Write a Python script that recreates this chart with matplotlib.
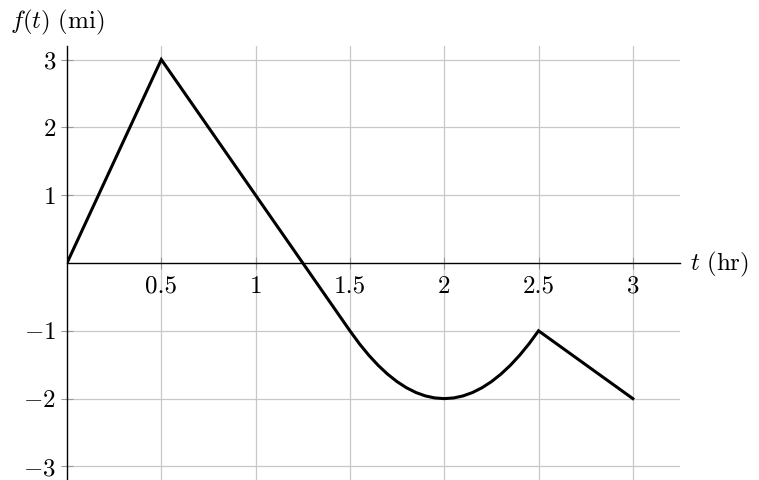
import matplotlib.pyplot as plt

plt.rcParams['mathtext.fontset'] = 'cm'
plt.rcParams['font.family'] = 'serif'
plt.rcParams['font.serif'] = ['cmr10', 'DejaVu Serif']
plt.rcParams['axes.formatter.use_mathtext'] = True

# === Piecewise curve ===
t_vals = [0.0, 0.5, 1.5, 1.55, 1.6, 1.65, 1.7, 1.75, 1.8, 1.85, 1.9, 1.95, 2.0,
          2.05, 2.1, 2.15, 2.2, 2.25, 2.3, 2.35, 2.4, 2.45, 2.5, 3.0]
f_vals = [0.0, 3.0, -1.0, -1.19, -1.36, -1.51, -1.64, -1.75, -1.84, -1.91, -1.96, -1.99, -2.0,
          -1.99, -1.96, -1.91, -1.84, -1.75, -1.64, -1.51, -1.36, -1.19, -1.0, -2.0]

x_ticks = [0.5, 1, 1.5, 2, 2.5, 3]
x_labels = ['0.5', '1', '1.5', '2', '2.5', '3']
y_ticks = [-3, -2, -1, 1, 2, 3]
y_labels = ['$-3$', '$-2$', '$-1$', '$1$', '$2$', '$3$']

fig = plt.figure(figsize=(7.59, 4.8), dpi=100)
ax = fig.add_axes([67 / 759, 0.0, (680 - 67) / 759, (480 - 46) / 480])

ax.plot(t_vals, f_vals, color='black', lw=2.2, solid_joinstyle='miter', zorder=3)

ax.set_xlim(0, 3.25)
ax.set_ylim(-3.2, 3.2)

# === Axes through the origin ===
ax.spines['left'].set_position(('data', 0))
ax.spines['bottom'].set_position(('data', 0))
ax.spines['right'].set_visible(False)
ax.spines['top'].set_visible(False)
for s in ['left', 'bottom']:
    ax.spines[s].set_linewidth(1.0)
    ax.spines[s].set_zorder(2)

ax.set_xticks(x_ticks)
ax.set_xticklabels(x_labels)
ax.set_yticks(y_ticks)
ax.set_yticklabels(y_labels)
ax.tick_params(axis='both', direction='inout', length=8, width=0.8, labelsize=18, color='#999999')
ax.tick_params(axis='x', pad=5)
ax.tick_params(axis='y', pad=4)

ax.grid(True, color='#c8c8c8', lw=0.9, zorder=0)
ax.set_axisbelow(True)

fig.text(10 / 759, 1 - 22 / 480, r'$f(t)\ \mathrm{(mi)}$', fontsize=18, va='center', ha='left')
fig.text(690 / 759, 1 - 264 / 480, r'$t\ \mathrm{(hr)}$', fontsize=18, va='center', ha='left')

plt.savefig('out.png', dpi=100)
